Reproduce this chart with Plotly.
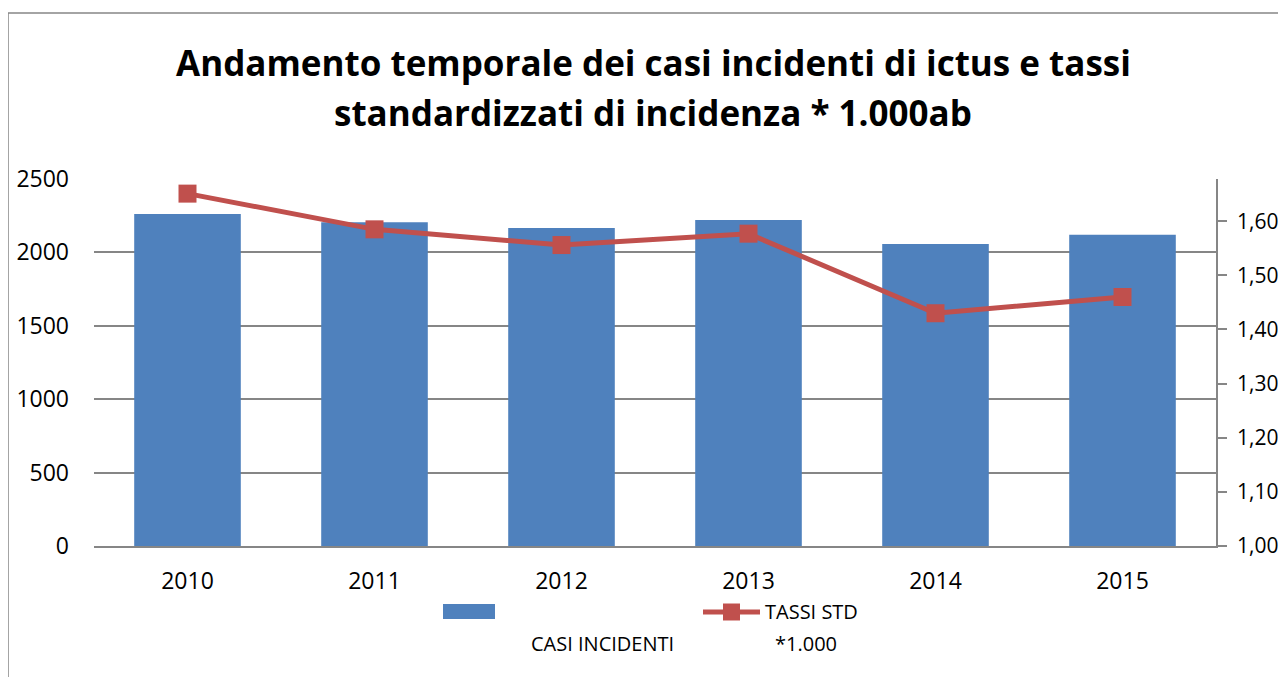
import plotly.graph_objects as go

years = ["2010", "2011", "2012", "2013", "2014", "2015"]
casi_incidenti = [2262, 2205, 2166, 2221, 2057, 2121]
tassi_std = [1.651, 1.585, 1.556, 1.577, 1.430, 1.460]

title_lines = ["Andamento temporale dei casi incidenti di ictus e tassi",
               "standardizzati di incidenza * 1.000ab"]
bar_name = "CASI INCIDENTI"
line_name_lines = ["TASSI STD", "*1.000"]
left_ticks = [0, 500, 1000, 1500, 2000, 2500]
right_ticks = [1.0, 1.1, 1.2, 1.3, 1.4, 1.5, 1.6]

BLUE = "#4F81BD"
RED = "#C0504D"
GRID = "#868686"
FONT = "Open Sans"

OFF = 8  # page body margin
W, H = 1278, 669
L, T = 94 - OFF, 179 - OFF
R = W - (1216 - OFF)
B = H - (546 - OFF)
PW, PH = W - L - R, H - T - B


def px(x):
    return (x - OFF - L) / PW


def py(y):
    return (H - B - (y - OFF)) / PH


fig = go.Figure()
fig.add_trace(go.Bar(x=years, y=casi_incidenti, name=bar_name,
                     marker=dict(color=BLUE, line=dict(width=0)),
                     showlegend=False))
fig.add_trace(go.Scatter(x=years, y=tassi_std, name=" ".join(line_name_lines),
                         yaxis="y2", mode="lines+markers",
                         line=dict(color=RED, width=5),
                         marker=dict(symbol="square", size=18, color=RED),
                         showlegend=False))

shapes = [
    dict(type="rect", xref="paper", yref="paper",
         x0=px(8), x1=px(1300), y0=py(700), y1=py(13),
         line=dict(color=GRID, width=1.5), fillcolor="rgba(0,0,0,0)", layer="below"),
    dict(type="rect", xref="paper", yref="paper",
         x0=px(443), x1=px(495), y0=py(619), y1=py(604),
         line=dict(width=0), fillcolor=BLUE),
    dict(type="line", xref="paper", yref="paper",
         x0=px(703), x1=px(760), y0=py(612), y1=py(612),
         line=dict(color=RED, width=5)),
    dict(type="rect", xref="paper", yref="paper",
         x0=px(723), x1=px(740), y0=py(620.5), y1=py(603.5),
         line=dict(width=0), fillcolor=RED),
]

annotations = [
    dict(text="<b>" + title_lines[0] + "</b>", xref="paper", yref="paper",
         x=px(653), y=py(62), showarrow=False, xanchor="center", yanchor="middle",
         font=dict(family=FONT, size=35, color="#000")),
    dict(text="<b>" + title_lines[1] + "</b>", xref="paper", yref="paper",
         x=px(653), y=py(112), showarrow=False, xanchor="center", yanchor="middle",
         font=dict(family=FONT, size=35, color="#000")),
    dict(text=bar_name, xref="paper", yref="paper",
         x=px(602), y=py(643), showarrow=False, xanchor="center", yanchor="middle",
         font=dict(family=FONT, size=20, color="#000")),
    dict(text=line_name_lines[0], xref="paper", yref="paper",
         x=px(763), y=py(611), showarrow=False, xanchor="left", yanchor="middle",
         font=dict(family=FONT, size=20, color="#000")),
    dict(text=line_name_lines[1], xref="paper", yref="paper",
         x=px(806), y=py(643), showarrow=False, xanchor="center", yanchor="middle",
         font=dict(family=FONT, size=20, color="#000")),
]

fig.update_layout(
    width=W, height=H, autosize=False,
    margin=dict(l=L, r=R, t=T, b=B, pad=0, autoexpand=False),
    paper_bgcolor="white", plot_bgcolor="white",
    separators=",.",
    bargap=0.43,
    font=dict(family=FONT, size=23, color="#000"),
    xaxis=dict(type="category", showline=True, linecolor=GRID, linewidth=1.5,
               ticks="", showgrid=False, ticklabelstandoff=14, automargin=False,
               tickfont=dict(family=FONT, size=23, color="#000")),
    yaxis=dict(range=[0, 2500], tickvals=left_ticks, showgrid=True,
               gridcolor=GRID, gridwidth=1.5, zeroline=False, showline=False,
               ticks="", ticklabelstandoff=24, automargin=False,
               tickfont=dict(family=FONT, size=23, color="#000")),
    yaxis2=dict(overlaying="y", side="right", range=[1.0, 1.678],
                tickvals=right_ticks, tickformat=".2f", showgrid=False,
                zeroline=False, showline=True, linecolor=GRID, linewidth=1.5,
                ticks="outside", ticklen=9, tickcolor=GRID, tickwidth=1.5,
                ticklabelstandoff=6, automargin=False,
                tickfont=dict(family=FONT, size=21, color="#000")),
    shapes=shapes,
    annotations=annotations,
    showlegend=False,
)

fig.write_html("out.html")
